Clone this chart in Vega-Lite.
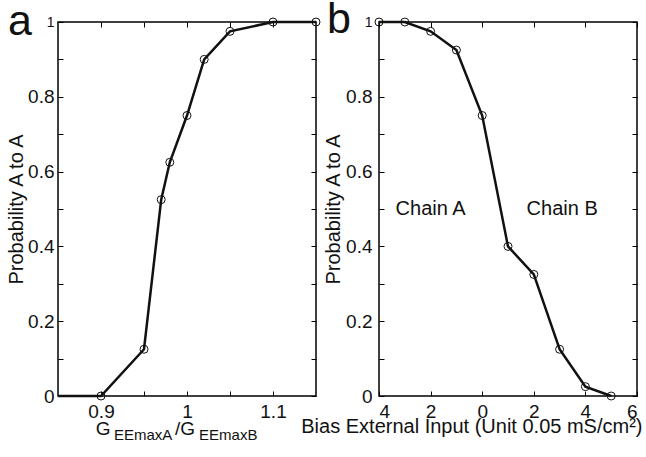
{
  "$schema": "https://vega.github.io/schema/vega-lite/v6.json",
  "padding": {"left": 5, "top": -2, "right": 0, "bottom": 0},
  "config": {
    "font": "Liberation Sans",
    "view": {"stroke": "#000", "strokeWidth": 1.5},
    "axis": {"grid": false, "domain": false, "tickColor": "#000", "tickSize": 5, "offset": -5, "tickWidth": 1, "labelFontSize": 19, "labelColor": "#111", "titleColor": "#111", "titleFontSize": 20, "titleFontWeight": "normal", "labelFont": "Liberation Sans", "titleFont": "Liberation Sans", "labelPadding": 6}
  },
  "datasets": {
    "a": [
      {"g": 0.85, "p": 0, "m": false},
      {"g": 0.9, "p": 0, "m": true},
      {"g": 0.95, "p": 0.125, "m": true},
      {"g": 0.97, "p": 0.525, "m": true},
      {"g": 0.98, "p": 0.625, "m": true},
      {"g": 1.0, "p": 0.75, "m": true},
      {"g": 1.02, "p": 0.9, "m": true},
      {"g": 1.05, "p": 0.975, "m": true},
      {"g": 1.1, "p": 1, "m": true},
      {"g": 1.15, "p": 1, "m": true}
    ],
    "b": [
      {"bias": -4, "p": 1},
      {"bias": -3, "p": 1},
      {"bias": -2, "p": 0.975},
      {"bias": -1, "p": 0.925},
      {"bias": 0, "p": 0.75},
      {"bias": 1, "p": 0.4},
      {"bias": 2, "p": 0.325},
      {"bias": 3, "p": 0.125},
      {"bias": 4, "p": 0.025},
      {"bias": 5, "p": 0}
    ],
    "aLetter": [{"g": 0.85, "p": 1, "t": "a"}],
    "bLetter": [{"bias": -4, "p": 1, "t": "b"}],
    "aTitleMain": [{"g": 0.894, "p": -0.104, "t": "G"}, {"g": 0.986, "p": -0.104, "t": "/G"}],
    "aTitleSub": [{"g": 0.915, "p": -0.118, "t": "EEmaxA"}, {"g": 1.014, "p": -0.118, "t": "EEmaxB"}],
    "chains": [{"bias": -2, "p": 0.5, "t": "Chain A"}, {"bias": 3.1, "p": 0.5, "t": "Chain B"}]
  },
  "hconcat": [
    {
      "width": 258,
      "height": 374,
      "layer": [
        {
          "data": {"name": "a"},
          "mark": {"type": "line", "color": "#111", "strokeWidth": 2.5},
          "encoding": {
            "x": {"field": "g", "type": "quantitative", "scale": {"domain": [0.85, 1.15], "nice": false, "zero": false},
              "axis": {"orient": "bottom", "values": [0.9, 0.95, 1, 1.05, 1.1], "labelExpr": "(datum.value==0.95||datum.value==1.05) ? '' : toString(datum.value)", "title": null}},
            "y": {"field": "p", "type": "quantitative", "scale": {"domain": [0, 1], "nice": false},
              "axis": {"orient": "left", "values": [0, 0.1, 0.2, 0.3, 0.4, 0.5, 0.6, 0.7, 0.8, 0.9, 1], "labelExpr": "round(datum.value*10)%2==0 ? toString(round(datum.value*10)/10) : ''", "title": "Probability A to A", "titlePadding": 1, "labelPadding": 4, "labelFontSize": {"condition": {"test": "datum.value==1", "value": 14}, "value": 19}}}
          }
        },
        {
          "data": {"name": "a"},
          "transform": [{"filter": "datum.m"}],
          "mark": {"type": "point", "shape": "circle", "filled": false, "stroke": "#111", "strokeWidth": 1, "size": 64, "opacity": 1},
          "encoding": {
            "x": {"field": "g", "type": "quantitative", "axis": {"orient": "top", "values": [0.9, 0.95, 1, 1.05, 1.1], "labels": false, "title": null}},
            "y": {"field": "p", "type": "quantitative", "axis": {"orient": "right", "values": [0, 0.1, 0.2, 0.3, 0.4, 0.5, 0.6, 0.7, 0.8, 0.9, 1], "labels": false, "title": null}}
          }
        },
        {
          "data": {"name": "aLetter"},
          "mark": {"type": "text", "fontSize": 43, "align": "right", "baseline": "alphabetic", "dx": -26, "dy": 13, "color": "#111"},
          "encoding": {
            "x": {"field": "g", "type": "quantitative", "axis": null},
            "y": {"field": "p", "type": "quantitative", "axis": null},
            "text": {"field": "t"}
          }
        },
        {
          "data": {"name": "aTitleMain"},
          "mark": {"type": "text", "fontSize": 19, "align": "left", "baseline": "alphabetic", "color": "#111"},
          "encoding": {
            "x": {"field": "g", "type": "quantitative", "axis": null},
            "y": {"field": "p", "type": "quantitative", "axis": null},
            "text": {"field": "t"}
          }
        },
        {
          "data": {"name": "aTitleSub"},
          "mark": {"type": "text", "fontSize": 15, "align": "left", "baseline": "alphabetic", "color": "#111"},
          "encoding": {
            "x": {"field": "g", "type": "quantitative", "axis": null},
            "y": {"field": "p", "type": "quantitative", "axis": null},
            "text": {"field": "t"}
          }
        }
      ],
      "resolve": {"axis": {"x": "independent", "y": "independent"}}
    },
    {
      "width": 258,
      "height": 374,
      "layer": [
        {
          "mark": {"type": "rule", "color": "#888", "strokeWidth": 1},
          "encoding": {"x": {"datum": 0, "type": "quantitative", "scale": {"domain": [-4, 6], "nice": false, "zero": false}, "axis": null}}
        },
        {
          "data": {"name": "b"},
          "mark": {"type": "line", "color": "#111", "strokeWidth": 2.5},
          "encoding": {
            "x": {"field": "bias", "type": "quantitative", "scale": {"domain": [-4, 6], "nice": false, "zero": false},
              "axis": {"orient": "bottom", "values": [-4, -2, 0, 2, 4, 6], "labelExpr": "toString(abs(datum.value))", "title": "Bias External Input (Unit 0.05 mS/cm²)", "titleX": 263, "titleAlign": "right", "titleAnchor": "end", "titleY": 41, "titleBaseline": "alphabetic"}},
            "y": {"field": "p", "type": "quantitative", "scale": {"domain": [0, 1], "nice": false},
              "axis": {"orient": "left", "values": [0, 0.1, 0.2, 0.3, 0.4, 0.5, 0.6, 0.7, 0.8, 0.9, 1], "labelExpr": "round(datum.value*10)%2==0 ? toString(round(datum.value*10)/10) : ''", "title": "Probability A to A", "titlePadding": 2, "labelPadding": 7, "labelFontSize": {"condition": {"test": "datum.value==1", "value": 14}, "value": 19}}}
          }
        },
        {
          "data": {"name": "b"},
          "mark": {"type": "point", "shape": "circle", "filled": false, "stroke": "#111", "strokeWidth": 1, "size": 64, "opacity": 1},
          "encoding": {
            "x": {"field": "bias", "type": "quantitative", "axis": {"orient": "top", "values": [-4, -2, 0, 2, 4, 6], "labels": false, "title": null}},
            "y": {"field": "p", "type": "quantitative", "axis": {"orient": "right", "values": [0, 0.1, 0.2, 0.3, 0.4, 0.5, 0.6, 0.7, 0.8, 0.9, 1], "labels": false, "title": null}}
          }
        },
        {
          "data": {"name": "bLetter"},
          "mark": {"type": "text", "fontSize": 43, "align": "right", "baseline": "alphabetic", "dx": -28, "dy": 11, "color": "#111"},
          "encoding": {
            "x": {"field": "bias", "type": "quantitative", "axis": null},
            "y": {"field": "p", "type": "quantitative", "axis": null},
            "text": {"field": "t"}
          }
        },
        {
          "data": {"name": "chains"},
          "mark": {"type": "text", "fontSize": 20, "align": "center", "baseline": "middle", "color": "#111"},
          "encoding": {
            "x": {"field": "bias", "type": "quantitative", "axis": null},
            "y": {"field": "p", "type": "quantitative", "axis": null},
            "text": {"field": "t"}
          }
        }
      ],
      "resolve": {"axis": {"x": "independent", "y": "independent"}}
    }
  ],
  "spacing": 63,
  "bounds": "flush"
}
